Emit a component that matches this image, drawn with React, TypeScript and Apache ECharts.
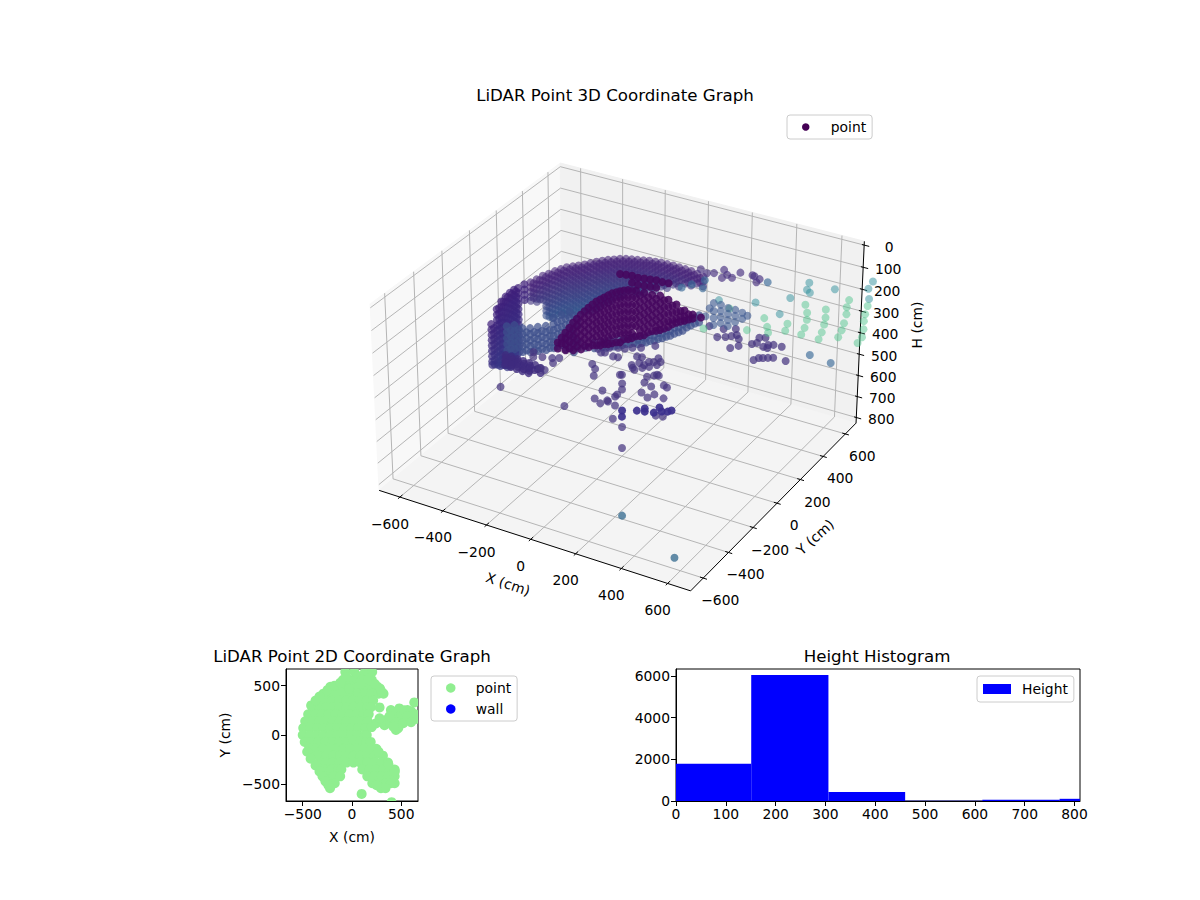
import React, { useEffect, useRef } from "react";
import * as echarts from "echarts";

const FONT = '"DejaVu Sans"';

/* ---------- 3D point cloud values: [x cm, y cm, [h cm ...]] or [x, y, h] ---------- */
type Col = [number, number, number[]];
const DOME_COLUMNS: Col[] = [
  [-422, 8, [148, 170, 192, 214, 232]],
  [-414, 41, [148, 170, 192, 214, 236, 250]],
  [-409, 80, [148, 170, 192, 214, 236, 258]],
  [-397, 106, [148, 170, 192, 214, 236, 258, 280, 302, 324, 346]],
  [-387, 137, [148, 170, 192, 214, 236, 258, 280, 302, 324, 346]],
  [-375, 163, [148, 170, 192, 214, 236, 258, 280, 302, 324, 346]],
  [-363, 188, [148, 170, 192, 214, 236, 258, 280, 302, 324, 346, 368]],
  [-346, 207, [148, 170, 192, 214, 236, 258, 280, 302, 324, 346, 368]],
  [-330, 225, [148, 170, 192, 214, 236, 258, 280, 302, 324, 346, 368]],
  [-313, 244, [148, 170, 192, 214, 236, 258, 280, 302, 324, 346, 368]],
  [-299, 266, [148, 170, 192, 214, 236, 258, 280, 302, 324, 346, 368]],
  [-284, 288, [148, 170, 192, 214, 236, 258, 280, 302, 324, 346, 368]],
  [-268, 307, [148, 170, 192, 214, 236, 258, 280, 302, 324, 346]],
  [-252, 325, [148, 170, 192, 214, 236, 258, 280, 302, 324, 346]],
  [-233, 340, [148, 170, 192, 214, 236, 258, 280, 302, 324]],
  [-215, 356, [148, 170, 192, 214, 236, 258, 280, 302, 324]],
  [-194, 368, [148, 170, 192, 214, 236, 258, 280, 302]],
  [-172, 376, [148, 170, 192, 214, 236, 258, 280, 302]],
  [-150, 384, [148, 170, 192, 214, 236, 258, 280, 302]],
  [-127, 392, [148, 170, 192, 214, 236, 258, 280, 302]],
  [-105, 401, [148, 170, 192, 214, 236, 258, 280]],
  [-80, 406, [148, 170, 192, 214, 236, 258, 280]],
  [-56, 411, [148, 170, 192, 214, 236, 258]],
  [-29, 412, [148, 170, 192, 214, 236, 258]],
  [-3, 414, [148, 170, 192, 214, 236]],
  [25, 412, [148, 170, 192, 214, 236]],
  [54, 411, [148, 170, 192, 214]],
  [82, 409, [148, 170, 192, 214]],
  [114, 400, [148, 170, 192]],
  [146, 391, [148, 170, 192]],
];
const DOME_OFFSET_COLUMNS: Col[] = [
  [-418, 24, [159, 181, 203, 225]],
  [-411, 60, [159, 181, 203, 225, 247]],
  [-403, 93, [159, 181, 203, 225, 247, 269, 291, 313, 335]],
  [-392, 121, [159, 181, 203, 225, 247, 269, 291, 313, 335, 357]],
  [-381, 150, [159, 181, 203, 225, 247, 269, 291, 313, 335, 357]],
  [-369, 175, [159, 181, 203, 225, 247, 269, 291, 313, 335, 357]],
  [-354, 197, [159, 181, 203, 225, 247, 269, 291, 313, 335, 357]],
  [-338, 216, [159, 181, 203, 225, 247, 269, 291, 313, 335, 357]],
  [-321, 234, [159, 181, 203, 225, 247, 269, 291, 313, 335, 357]],
  [-306, 255, [159, 181, 203, 225, 247, 269, 291, 313, 335, 357]],
  [-291, 277, [159, 181, 203, 225, 247, 269, 291, 313, 335, 357]],
  [-276, 297, [159, 181, 203, 225, 247, 269, 291, 313, 335, 357]],
  [-260, 316, [159, 181, 203, 225, 247, 269, 291, 313, 335]],
  [-242, 332, [159, 181, 203, 225, 247, 269, 291, 313, 335]],
  [-224, 348, [159, 181, 203, 225, 247, 269, 291, 313]],
  [-204, 362, [159, 181, 203, 225, 247, 269, 291, 313]],
  [-183, 372, [159, 181, 203, 225, 247, 269, 291]],
  [-161, 380, [159, 181, 203, 225, 247, 269, 291]],
  [-138, 388, [159, 181, 203, 225, 247, 269, 291]],
  [-116, 396, [159, 181, 203, 225, 247, 269]],
  [-92, 403, [159, 181, 203, 225, 247, 269]],
  [-68, 408, [159, 181, 203, 225, 247]],
  [-42, 411, [159, 181, 203, 225, 247]],
  [-16, 413, [159, 181, 203, 225]],
  [11, 413, [159, 181, 203, 225]],
  [39, 411, [159, 181, 203]],
  [68, 410, [159, 181, 203]],
  [98, 404, [159, 181]],
  [130, 395, [159, 181]],
];
const BODY_COLUMNS: Col[] = [
  [-376, -356, [148, 172, 196, 220, 244, 268, 292, 316, 331]],
  [-421, -245, [148, 172, 196, 220, 244, 268, 292, 316, 340, 364, 388, 400]],
  [-439, -183, [148, 172, 196, 220, 244, 268, 292, 316, 340, 364, 388, 412, 436]],
  [-445, -141, [148, 172, 196, 220, 244, 268, 292, 316, 340, 364, 388, 412, 436, 460, 470]],
  [-447, -106, [148, 172, 196, 220, 244, 268, 292, 316, 340, 364, 388, 412, 436, 460, 484]],
  [-446, -77, [148, 172, 196, 220, 244, 268, 292, 316, 340, 364, 388, 412, 436, 460, 476]],
  [-440, -56, [148, 172, 196, 220, 244, 268, 292, 316, 340, 364, 388, 412, 440]],
  [-435, -17, [148, 172, 196, 220]],
  [-400, -300, [200, 224, 248, 272, 296, 320, 344, 365]],
  [-430, -214, [160, 184, 208, 232, 256, 280, 304, 328, 352, 376, 400, 424]],
  [-442, -162, [160, 184, 208, 232, 256, 280, 304, 328, 352, 376, 400, 424, 448]],
  [-446, -123, [160, 184, 208, 232, 256, 280, 304, 328, 352, 376, 400, 424, 448, 472]],
  [-447, -91, [160, 184, 208, 232, 256, 280, 304, 328, 352, 376, 400, 424, 448, 472]],
  [-443, -66, [160, 184, 208, 232, 256, 280, 304, 328, 352, 376, 400, 424, 448]],
];
const TAIL_POINTS = [
  [-436, -165, 400], [-416, -199, 400], [-396, -233, 400], [-408, -166, 400], [-388, -200, 400], [-369, -234, 400],
  [-379, -168, 400], [-359, -202, 400], [-340, -236, 400], [-351, -170, 400], [-331, -205, 400], [-312, -239, 400],
  [-322, -172, 400], [-303, -206, 400], [-283, -240, 400], [-294, -174, 400], [-275, -208, 400], [-263, -182, 400], [-243, -216, 400],
  [-422, -182, 400], [-402, -216, 400], [-394, -183, 400], [-374, -217, 400], [-365, -185, 400], [-345, -219, 400],
  [-337, -187, 400], [-317, -222, 400], [-308, -189, 400], [-289, -223, 400], [-269, -195, 400],
];
const BAND_COLUMNS: Col[] = [
  [-469, -100, [309, 336, 364, 391, 419]],
  [-433, -100, [294, 321, 349, 376, 404]],
  [-396, -100, [297, 325, 352, 380, 407]],
  [-360, -100, [287, 314, 342, 369, 397]],
  [-324, -100, [271, 299, 326, 354, 381]],
  [-287, -100, [256, 284, 311, 339, 366]],
  [-251, -100, [209, 237, 264, 292, 319, 347]],
  [-215, -100, [185, 212, 240, 267, 295, 322]],
  [-178, -100, [160, 188, 215, 243, 270, 298, 326]],
  [-142, -100, [187, 214, 287, 315]],
  [-106, -100, [304]],
  [-451, -100, [322, 350, 378, 405]],
  [-415, -100, [308, 335, 362, 390]],
  [-378, -100, [311, 339, 366, 394]],
  [-342, -100, [300, 328, 355, 383]],
  [-306, -100, [285, 312, 340, 367]],
  [-269, -100, [270, 297, 325, 352]],
  [-233, -100, [223, 250, 278, 305, 333]],
  [-197, -100, [198, 226, 254, 281, 309, 336]],
  [-160, -100, [174, 202, 229, 257, 284, 312, 340]],
  [-185, 100, [428, 402]],
  [-148, 100, [413, 388]],
  [-112, 100, [370, 398]],
  [-76, 100, [355, 382]],
  [-39, 100, [340, 367]],
  [-3, 100, [325, 352]],
  [33, 100, [314, 342]],
  [69, 100, [294, 322]],
  [106, 100, [275, 302]],
  [142, 100, [255, 282]],
  [178, 100, [231, 258]],
  [215, 100, [206, 234]],
  [251, 100, [173, 200]],
  [287, 100, [144, 176]],
  [-130, 100, [388, 410]],
  [-94, 100, [372, 394]],
  [-57, 100, [356, 378]],
  [-21, 100, [340, 362]],
  [15, 100, [332, 352]],
  [51, 100, [312, 334]],
  [88, 100, [292, 314]],
  [124, 100, [272, 294]],
  [160, 100, [250, 272]],
  [197, 100, [224, 246]],
  [233, 100, [192, 214]],
  [269, 100, [160, 186]],
];
const LATTICE_COLUMNS: Col[] = [
  [208, 300, [268]],
  [226, 300, [226]],
  [244, 300, [198, 234, 266, 298]],
  [276, 300, [197, 225, 252, 280]],
  [308, 300, [202, 229, 257, 284]],
  [340, 300, [202, 229, 257]],
  [371, 300, [206, 234]],
  [394, 300, [213]],
];
const CORE_COLUMNS: Col[] = [
  [-386, 150, [484, 512]],
  [-350, 150, [428, 455, 483, 510]],
  [-313, 150, [371, 403, 436, 468, 500]],
  [-277, 150, [324, 356, 388, 420, 453, 485]],
  [-241, 150, [282, 314, 346, 378, 410, 442, 465]],
  [-204, 150, [243, 276, 308, 340, 372, 404, 445]],
  [-168, 150, [215, 247, 279, 311, 343, 375, 407, 430]],
  [-132, 150, [186, 218, 250, 282, 314, 346, 378, 415]],
  [-95, 150, [88, 166, 198, 230, 262, 294, 326, 358, 400]],
  [-68, 150, [84]],
  [-59, 150, [151, 183, 215, 247, 279, 311, 343, 375]],
  [-41, 150, [81, 113]],
  [-23, 150, [144, 177, 209, 241, 273, 305, 351]],
  [-14, 150, [83, 115]],
  [14, 150, [79, 111, 143, 175, 207, 239, 271, 304, 336]],
  [41, 150, [76, 108]],
  [50, 150, [142, 174, 206, 238, 270, 307]],
  [68, 150, [72, 105]],
  [86, 150, [136, 168, 200, 232, 264, 292]],
  [95, 150, [73]],
  [123, 150, [70, 144, 176, 208, 240, 267]],
  [159, 150, [156, 188, 220, 238]],
  [195, 150, [173, 200, 219]],
  [232, 150, [181, 199]],
  [268, 150, [184]],
  [-368, 150, [456, 484]],
  [-331, 150, [400, 432, 464, 496]],
  [-295, 150, [348, 380, 412, 444, 476]],
  [-259, 150, [303, 335, 367, 399, 431, 463]],
  [-222, 150, [262, 294, 326, 358, 390, 422, 450]],
  [-186, 150, [229, 261, 293, 325, 357, 389, 421, 440]],
  [-150, 150, [200, 232, 264, 296, 328, 360, 392, 424]],
  [-113, 150, [176, 208, 240, 272, 304, 336, 368, 405]],
  [-77, 150, [158, 190, 222, 254, 286, 318, 350, 380]],
  [-41, 150, [150, 182, 214, 246, 278, 310, 342, 365]],
  [-5, 150, [159, 191, 223, 255, 287, 319, 345]],
  [32, 150, [158, 190, 222, 254, 286, 318]],
  [68, 150, [155, 187, 219, 251, 283, 300]],
  [104, 150, [152, 184, 216, 248, 280]],
  [141, 150, [165, 197, 229, 250]],
  [177, 150, [180, 205, 228]],
  [213, 150, [185, 208]],
];
const SCATTER_UPPER = [
  [103, 450, 154], [131, 450, 164], [163, 450, 155], [208, 450, 128], [199, 450, 167], [222, 450, 147], [244, 450, 154],
  [281, 450, 121], [335, 450, 118], [344, 450, 120], [367, 450, 127], [353, 450, 145],
];
const SCATTER_BLUE = [
  [122, 450, 199], [113, 450, 238], [63, 450, 234], [17, 450, 261], [403, 450, 131], [671, 300, 312], [762, 300, 322],
];
const SCATTER_MID = [
  [262, 300, 348], [299, 300, 337], [326, 300, 325], [349, 300, 314], [358, 300, 329], [344, 300, 288], [290, 300, 303],
  [226, 300, 308], [321, 300, 381], [358, 300, 361], [417, 300, 335], [439, 300, 324], [449, 300, 298], [476, 300, 290],
  [467, 300, 334], [489, 300, 319], [512, 300, 312], [548, 300, 310], [485, 300, 334], [426, 300, 406], [449, 300, 390],
  [467, 300, 385], [489, 300, 378], [512, 300, 371], [567, 300, 370],
];
const SCATTER_TEAL = [
  [512, 600, 175], [503, 600, 209], [516, 600, 219], [625, 600, 173], [788, 600, 94], [770, 600, 131], [775, 600, 176],
  [430, 600, 267], [385, 600, 354], [275, 600, 331], [108, 600, 366],
];
const SCATTER_GREEN = [
  [689, 600, 205], [680, 600, 240], [770, 600, 209], [761, 600, 249], [757, 600, 282], [757, 600, 319], [752, 600, 357],
  [734, 600, 389], [589, 600, 276], [589, 600, 313], [584, 600, 346], [575, 600, 385], [562, 600, 421], [680, 600, 272],
  [671, 600, 316], [662, 600, 351], [648, 600, 387], [498, 600, 279], [507, 600, 314], [507, 600, 346], [498, 600, 386],
  [484, 600, 421], [421, 600, 389], [412, 600, 424], [335, 600, 455], [330, 600, 429], [316, 600, 392], [239, 600, 470],
  [39, 600, 519], [157, 600, 392],
];
const SCATTER_LOW = [
  [-296, 270, 620], [-266, 242, 620], [-243, 192, 620], [-153, 108, 620], [-148, 38, 620], [-90, 44, 620], [-85, 92, 620],
  [-50, 31, 620], [-6, -62, 620], [-299, 378, 620], [-339, 391, 620], [-302, 421, 620], [-254, 367, 620], [-233, 371, 620],
  [-155, 252, 620], [-353, -89, 400], [-302, -105, 400], [-333, -123, 400], [-264, -93, 400], [-240, -79, 400],
  [-241, -125, 400], [-266, -184, 400], [-241, -188, 400], [-413, -243, 500], [-171, -158, 560], [-272, 439, 620],
  [-244, 446, 620], [-221, 469, 620], [-190, 486, 620], [-147, 529, 620], [-313, 370, 620], [-153, 344, 620],
  [-124, 316, 620], [-134, 373, 620], [-148, 420, 620], [-104, 400, 620], [-87, 410, 620], [-86, 447, 620], [-63, 424, 620],
  [-138, 326, 620], [-104, 345, 620], [-84, 366, 620], [-64, 395, 620], [-169, 416, 620], [-109, 369, 620], [-148, 256, 620],
  [-112, 195, 620], [-89, 154, 620], [-38, 247, 620], [-52, 293, 620], [-32, 314, 620], [-25, 327, 620], [-15, 324, 620],
  [1, 233, 620], [41, 266, 620], [60, 258, 620], [-9, 172, 620], [43, 185, 620], [31, 150, 620], [90, 176, 620],
  [-86, 110, 620], [-97, 50, 620], [-109, 16, 620], [157, 51, 620], [57, -98, 620], [129, 44, 620], [71, -123, 700],
];
const SCATTER_FLOORROW = [
  [45, 40, 620], [76, 49, 620], [111, 60, 620], [134, 83, 620], [155, 94, 620], [164, 109, 620], [-6, 11, 620], [17, -30, 620],
  [64, 70, 620], [111, 106, 620],
];
const SCATTER_STEEL = [[240, -415, 800], [557, -569, 800]];

/* ---------- 2D plan view values ---------- */
const PLAN_ROWS: [number, number[]][] = [
  [640, [-68, 24, 132, 205]],
  [560, [-90, -30, 30, 130, 200]],
  [490, [-220, -150, -80, -10, 60, 130, 200, 260]],
  [420, [-290, -220, -150, -80, -10, 60, 130, 200, 270, 320]],
  [350, [-335, -270, -200, -130, -60, 10, 80, 150, 215]],
  [280, [-400, -335, -265, -195, -125, -55, 15, 85, 155, 190]],
  [210, [-445, -375, -305, -235, -165, -95, -25, 45, 115, 170]],
  [140, [-475, -405, -335, -265, -195, -125, -55, 15, 85, 160]],
  [70, [-495, -425, -355, -285, -215, -145, -75, -5, 65, 140]],
  [0, [-500, -430, -360, -290, -220, -150, -80, -10, 60, 130, 150]],
  [-70, [-480, -410, -340, -270, -200, -130, -60, 10, 80, 150, 190]],
  [-140, [-436, -366, -296, -226, -156, -86, -16, 54, 124, 194, 247]],
  [-210, [-402, -332, -262, -192, -122, -52, 18, 88, 158, 228, 314]],
  [-280, [-335, -265, -195, -125, -55, 15, 85, 155, 225, 295, 365]],
  [-350, [-277, -207, -137, -108, 104, 174, 244, 314, 384, 433]],
  [-420, [-257, -187, -120, 155, 225, 295, 365, 433]],
  [-490, [-233, -175, 206, 276, 346, 433]],
  [-540, [-223, 294]],
  [-598, [98]],
  [-682, [402]],
];
const PLAN_EDGE = [
  [-250, 455], [-180, 500], [-120, 530], [-60, 590], [60, 600], [100, 560], [170, 570], [230, 520], [285, 470], [300, 440],
  [-415, 300], [-370, 350], [-330, 390], [-455, -170], [-420, -240], [-370, -310], [-330, -370], [-300, -420], [-270, -470],
  [-240, -510], [270, -170], [370, -300], [435, -370], [395, -490], [340, -540], [250, -510], [-30, 470], [90, 520], [280, 280],
];
const PLAN_BRANCH = [
  [395, 253], [480, 270], [564, 253], [649, 162], [632, 331], [547, 152], [446, 51], [480, 135], [345, 152], [243, 118],
  [294, 135], [463, 236], [598, 186], [200, 80], [330, 100], [390, 120], [420, 190], [500, 210], [530, 250], [600, 240],
  [440, 130], [380, 190], [520, 120], [560, 190], [640, 210], [470, 70], [420, 85], [280, 170], [600, 130],
];

/* ---------- histogram values ---------- */
const HIST_EDGES = [0, 151, 306, 460, 615, 770, 811];
const HIST_COUNTS = [1785, 6045, 430, 8, 62, 105];

/* ---------- axis ticks ---------- */
const TICKS_XY = [-600, -400, -200, 0, 200, 400, 600];
const TICKS_H = [0, 100, 200, 300, 400, 500, 600, 700, 800];
const TICKS_PLAN = [-500, 0, 500];
const TICKS_HIST_X = [0, 100, 200, 300, 400, 500, 600, 700, 800];
const TICKS_HIST_Y = [0, 2000, 4000, 6000];

const L = 698;
const H_TOP = -17;
const H_BOT = 827;

function project(x: number, y: number, h: number): [number, number] {
  const X = (x * 0.595) / L;
  const Y = (y * 0.595) / L;
  const Z = ((405 - h) * 0.356) / 422;
  const u = 0.866 * X + 0.5 * Y;
  const v = -0.25 * X + 0.433 * Y + 0.866 * Z;
  const w = 0.433 * X - 0.75 * Y + 0.5 * Z;
  const k = 2985 / (10 - w);
  return [622 + u * k, 365.7 - v * k];
}
const minus = (v: number | string) => String(v).replace("-", "\u2212");
const expand = (cols: Col[]) => cols.flatMap(([x, y, hs]) => hs.map((h) => [x, y, h]));
const toScreen = (rows: number[][]) => rows.map(([x, y, h]) => [...project(x, y, h), h]);

function frameItem() {
  const kids: any[] = [];
  const poly = (pts: number[][], fill: string) =>
    kids.push({ type: "polygon", shape: { points: pts.map((p) => project(p[0], p[1], p[2])) }, style: { fill, stroke: fill, lineWidth: 1 } });
  const seg = (a: number[], b: number[], stroke: string, lineWidth: number) => {
    const p = project(a[0], a[1], a[2]);
    const q = project(b[0], b[1], b[2]);
    kids.push({ type: "line", shape: { x1: p[0], y1: p[1], x2: q[0], y2: q[1] }, style: { stroke, lineWidth } });
  };
  const label = (text: string, x: number, y: number, rotation = 0) =>
    kids.push({ type: "text", x, y, rotation, style: { text, fontFamily: FONT, fontSize: 13.89, fill: "#000", align: "center", verticalAlign: "middle" } });

  poly([[-L, -L, H_BOT], [-L, L, H_BOT], [-L, L, H_TOP], [-L, -L, H_TOP]], "#f8f8f8");
  poly([[-L, L, H_BOT], [L, L, H_BOT], [L, L, H_TOP], [-L, L, H_TOP]], "#f1f1f1");
  poly([[-L, -L, H_BOT], [L, -L, H_BOT], [L, L, H_BOT], [-L, L, H_BOT]], "#f4f4f4");

  const grid = "#b5b5b5";
  TICKS_XY.forEach((t) => {
    seg([t, -L, H_BOT], [t, L, H_BOT], grid, 1);
    seg([t, L, H_BOT], [t, L, H_TOP], grid, 1);
    seg([L, t, H_BOT], [-L, t, H_BOT], grid, 1);
    seg([-L, t, H_BOT], [-L, t, H_TOP], grid, 1);
  });
  TICKS_H.forEach((t) => {
    seg([-L, -L, t], [-L, L, t], grid, 1);
    seg([-L, L, t], [L, L, t], grid, 1);
  });

  seg([-L, -L, H_BOT], [L, -L, H_BOT], "#000", 1);
  seg([L, -L, H_BOT], [L, L, H_BOT], "#000", 1);
  seg([L, L, H_BOT], [L, L, H_TOP], "#000", 1);

  TICKS_XY.forEach((t) => {
    seg([t, -L - 14, H_BOT], [t, -L + 18, H_BOT], "#000", 1);
    seg([L - 14, t, H_BOT], [L + 16, t, H_BOT], "#000", 1);
    const a = project(t, -L, H_BOT);
    label(minus(t), a[0] - 10, a[1] + 26.5);
    const b = project(L, t, H_BOT);
    label(minus(t), b[0] + 17, b[1] + 22);
  });
  TICKS_H.forEach((t) => {
    seg([L - 10, L, t], [L + 22, L, t], "#000", 1);
    const a = project(L, L, t);
    label(String(t), a[0] + 25, a[1] + 1.5);
  });
  label("X (cm)", 508, 584, -0.32);
  label("Y (cm)", 815, 537, 0.73);
  label("H (cm)", 917, 325, Math.PI / 2);
  return { type: "group", children: kids };
}

const mix = (a: number[], b: number[], t: number) => {
  const c = Math.max(0, Math.min(1, t));
  return `rgb(${a.map((v, i) => Math.round(v + (b[i] - v) * c)).join(",")})`;
};

function cloudSeries(rows: number[][], color: any, opacity: number, z = 3, size = 8) {
  return {
    type: "scatter",
    name: "point",
    xAxisIndex: 0,
    yAxisIndex: 0,
    data: toScreen(rows),
    encode: { x: 0, y: 1 },
    symbolSize: size,
    z,
    silent: true,
    clip: false,
    itemStyle: { color, opacity },
  };
}

const PLAN_DATA = [...PLAN_ROWS.flatMap(([y, xs]) => xs.map((x) => [x, y])), ...PLAN_EDGE, ...PLAN_BRANCH];

const hAxisStyle = {
  axisLine: { show: true, onZero: false, lineStyle: { color: "#000", width: 1 } },
  axisTick: { show: true, length: 5, lineStyle: { color: "#000", width: 1 } },
  splitLine: { show: false },
};
const labelStyle = { color: "#000", fontFamily: FONT, fontSize: 13.89, margin: 6 };

export default function App() {
  const ref = useRef<HTMLDivElement>(null);
  useEffect(() => {
    const chart = echarts.init(ref.current!, undefined, { renderer: "svg" });
    const titleStyle = { fontFamily: FONT, fontSize: 16.67, fontWeight: "normal" as const, color: "#000" };
    const legendText = { fontFamily: FONT, fontSize: 13.89, color: "#000" };
    const legendBox = { backgroundColor: "rgba(255,255,255,0.8)", borderColor: "#ccc", borderWidth: 1, borderRadius: 3, selectedMode: false, orient: "vertical" as const };
    const histCells = HIST_COUNTS.map((c, i) => [HIST_EDGES[i], HIST_EDGES[i + 1], c]);

    chart.setOption({
      animation: false,
      backgroundColor: "#fff",
      title: [
        { text: "LiDAR Point 3D Coordinate Graph", left: 615, top: 87, textAlign: "center", padding: 0, textStyle: titleStyle },
        { text: "LiDAR Point 2D Coordinate Graph", left: 352, top: 648, textAlign: "center", padding: 0, textStyle: titleStyle },
        { text: "Height Histogram", left: 877, top: 648, textAlign: "center", padding: 0, textStyle: titleStyle },
      ],
      legend: [
        {
          ...legendBox, left: 787, top: 115, padding: [5, 6, 5, 15], itemWidth: 30, itemHeight: 7.5,
          textStyle: { ...legendText, padding: [0, 0, 0, 5] },
          data: [{ name: "point", icon: "circle", itemStyle: { color: "#440154", opacity: 1 } }],
        },
        {
          ...legendBox, left: 431, top: 676, padding: [5, 6, 5, 15], itemWidth: 32, itemHeight: 9.5, itemGap: 7,
          textStyle: { ...legendText, padding: [0, 0, 0, 4] },
          data: [
            { name: "point", icon: "circle", itemStyle: { color: "#90ee90", opacity: 1 } },
            { name: "wall", icon: "circle", itemStyle: { color: "#0000ff", opacity: 1 } },
          ],
        },
        {
          ...legendBox, left: 977, top: 676, padding: [6, 6, 6, 6], itemWidth: 28, itemHeight: 10,
          textStyle: { ...legendText, padding: [0, 0, 0, 6] },
          data: [{ name: "Height", icon: "rect", itemStyle: { color: "#0000ff", opacity: 1 } }],
        },
      ],
      grid: [
        { left: 0, top: 0, width: 1200, height: 900 },
        { left: 286, top: 669, width: 132, height: 132, show: true, borderColor: "#000", borderWidth: 1, backgroundColor: "#fff" },
        { left: 676, top: 669, width: 404, height: 132, show: true, borderColor: "#000", borderWidth: 1, backgroundColor: "#fff" },
      ],
      xAxis: [
        { type: "value", gridIndex: 0, min: 0, max: 1200, show: false },
        {
          type: "value", gridIndex: 1, min: -670, max: 670, name: "X (cm)", nameLocation: "middle", nameGap: 29,
          nameTextStyle: { color: "#000", fontFamily: FONT, fontSize: 13.89 },
          ...hAxisStyle,
          axisTick: { ...hAxisStyle.axisTick, customValues: TICKS_PLAN },
          axisLabel: { ...labelStyle, customValues: TICKS_PLAN, formatter: (v: number) => minus(v) },
        },
        {
          type: "value", gridIndex: 2, min: 0, max: 811,
          ...hAxisStyle,
          axisTick: { ...hAxisStyle.axisTick, customValues: TICKS_HIST_X },
          axisLabel: { ...labelStyle, customValues: TICKS_HIST_X, formatter: (v: number) => String(v) },
        },
      ],
      yAxis: [
        { type: "value", gridIndex: 0, min: 0, max: 900, inverse: true, show: false },
        {
          type: "value", gridIndex: 1, min: -670, max: 670, name: "Y (cm)", nameLocation: "middle", nameGap: 54,
          nameTextStyle: { color: "#000", fontFamily: FONT, fontSize: 13.89 },
          ...hAxisStyle,
          axisTick: { ...hAxisStyle.axisTick, customValues: TICKS_PLAN },
          axisLabel: { ...labelStyle, customValues: TICKS_PLAN, formatter: (v: number) => minus(v) },
        },
        {
          type: "value", gridIndex: 2, min: 0, max: 6336,
          ...hAxisStyle,
          axisTick: { ...hAxisStyle.axisTick, customValues: TICKS_HIST_Y },
          axisLabel: { ...labelStyle, customValues: TICKS_HIST_Y, formatter: (v: number) => String(v) },
        },
      ],
      series: [
        { type: "custom", name: "frame", coordinateSystem: "none", data: [0], z: 1, silent: true, renderItem: frameItem },
        cloudSeries([...expand(DOME_COLUMNS), ...expand(DOME_OFFSET_COLUMNS)], (p: any) => mix([72, 36, 122], [50, 84, 140], (p.value[2] - 170) / 190), 0.6),
        cloudSeries(expand(BODY_COLUMNS), (p: any) => mix([62, 30, 122], [54, 56, 135], (p.value[2] - 148) / 300), 0.7),
        cloudSeries(expand(BAND_COLUMNS), "#3d4f8c", 0.72),
        cloudSeries(TAIL_POINTS, "#3f2a7e", 0.8),
        cloudSeries(SCATTER_LOW, "#45347f", 0.72),
        cloudSeries(SCATTER_FLOORROW, "#3b2f8d", 0.92),
        cloudSeries(SCATTER_UPPER, "#47307f", 0.65),
        cloudSeries(SCATTER_MID, "#45347f", 0.72),
        cloudSeries(SCATTER_BLUE, "#3a6a98", 0.65),
        cloudSeries(SCATTER_TEAL, "#2f8f9b", 0.5),
        cloudSeries(SCATTER_GREEN, "#4cc38a", 0.48),
        cloudSeries(SCATTER_STEEL, "#31688e", 0.75),
        cloudSeries(expand(LATTICE_COLUMNS), "#3f5a92", 0.62),
        cloudSeries(expand(CORE_COLUMNS), "#45075f", 0.88, 4),
        {
          type: "custom", name: "point", xAxisIndex: 1, yAxisIndex: 1, data: PLAN_DATA, encode: { x: 0, y: 1 }, silent: true,
          itemStyle: { color: "#90ee90" },
          renderItem: (params: any, api: any) => {
            const c = api.coord([api.value(0), api.value(1)]);
            const s = params.coordSys;
            return {
              type: "circle",
              shape: { cx: c[0], cy: c[1], r: 5 },
              style: { fill: "#90ee90" },
              clipPath: { type: "rect", shape: { x: s.x, y: s.y, width: s.width, height: s.height } },
            };
          },
        },
        { type: "scatter", name: "wall", xAxisIndex: 1, yAxisIndex: 1, data: [], itemStyle: { color: "#0000ff" } },
        {
          type: "custom", name: "Height", xAxisIndex: 2, yAxisIndex: 2, data: histCells, encode: { x: [0, 1], y: 2 }, silent: true,
          itemStyle: { color: "#0000ff" },
          renderItem: (_: any, api: any) => {
            const a = api.coord([api.value(0), api.value(2)]);
            const b = api.coord([api.value(1), 0]);
            return { type: "rect", shape: { x: a[0], y: a[1], width: b[0] - a[0], height: b[1] - a[1] }, style: { fill: "#0000ff" } };
          },
        },
      ],
    });
    return () => chart.dispose();
  }, []);
  return <div ref={ref} style={{ position: "absolute", left: 0, top: 0, width: 1200, height: 900 }} />;
}
